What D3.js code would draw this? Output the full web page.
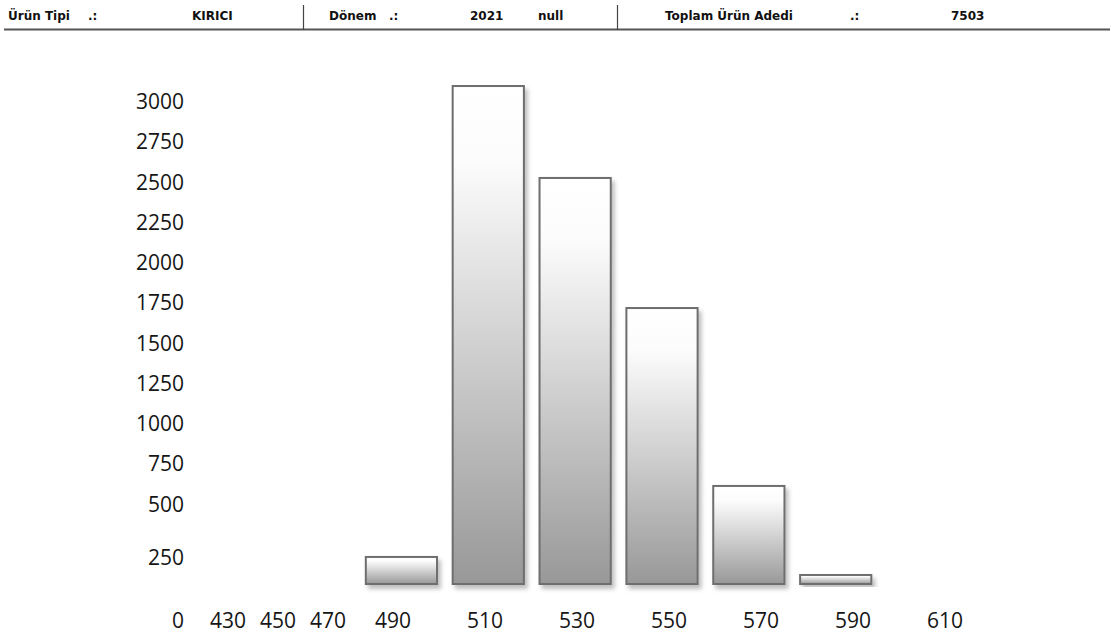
<!DOCTYPE html>
<html><head><meta charset="utf-8">
<script src="https://cdn.jsdelivr.net/npm/d3@7"></script>
<style>
html,body{margin:0;padding:0;background:#fff;}
svg{display:block;}
</style></head>
<body>
<script>
// ---- data ----
const headerLabels = ["Ürün Tipi", ".:", "KIRICI", "Dönem", ".:", "2021", "null", "Toplam Ürün Adedi", ".:", "7503"];
const barCategories = ["490", "510", "530", "550", "570", "590", "610"];
const barValues = [168, 3093, 2522, 1714, 609, 56, 0];
const emptyCategories = ["0", "430", "450", "470"];
const yTickValues = [250, 500, 750, 1000, 1250, 1500, 1750, 2000, 2250, 2500, 2750, 3000];

const W = 1110, H = 633;
const svg = d3.select("body").append("svg").attr("width", W).attr("height", H);
const defs = svg.append("defs");

const grad = defs.append("linearGradient").attr("id", "barGrad")
  .attr("x1", 0).attr("y1", 0).attr("x2", 0).attr("y2", 1);
grad.append("stop").attr("offset", "0").attr("stop-color", "#ffffff");
grad.append("stop").attr("offset", "0.15").attr("stop-color", "#fcfcfc");
grad.append("stop").attr("offset", "1").attr("stop-color", "#989898");

const f = defs.append("filter").attr("id", "shadow")
  .attr("x", "-20%").attr("y", "-20%").attr("width", "150%").attr("height", "150%");
f.append("feDropShadow").attr("dx", 3).attr("dy", 4).attr("stdDeviation", 2)
  .attr("flood-color", "#000").attr("flood-opacity", 0.25);

// ---- header ----
const hx = [8, 88, 192, 329, 389, 470, 538, 665, 850, 951];
const hdr = svg.append("g").attr("font-family", "DejaVu Sans, Verdana, sans-serif")
  .attr("font-weight", "bold").attr("font-size", 12).attr("fill", "#111");
hdr.selectAll("text").data(headerLabels).join("text")
  .attr("x", (d, i) => hx[i]).attr("y", 20).text(d => d);
svg.append("line").attr("x1", 4).attr("x2", W).attr("y1", 29.5).attr("y2", 29.5)
  .attr("stroke", "#555").attr("stroke-width", 2);
[303, 617].forEach(x => svg.append("line").attr("x1", x + 0.5).attr("x2", x + 0.5)
  .attr("y1", 5).attr("y2", 30).attr("stroke", "#444").attr("stroke-width", 1.2));

// ---- scales ----
const y = d3.scaleLinear().domain([0, 3000]).range([584, 101]);
const x = d3.scaleBand().domain(barCategories).range([358, 966])
  .paddingInner(0.18).paddingOuter(0.09);
const xLabel = d3.scalePoint().domain(barCategories).range([393, 945]);
const xEmpty = d3.scalePoint().domain(emptyCategories).range([178, 328]);

// ---- y axis labels ----
const yAxis = d3.axisLeft(y).tickValues(yTickValues).tickSize(0).tickPadding(0)
  .tickFormat(d3.format("d"));
const yg = svg.append("g").attr("transform", "translate(184,0)").call(yAxis);
yg.select(".domain").remove();
yg.selectAll("text").attr("font-family", "Open Sans, sans-serif").attr("font-size", 21)
  .attr("fill", "#151515")
  .attr("dy", d => d === 250 ? "1.0em" : "0.36em");

// ---- bars ----
svg.append("g").selectAll("rect").data(barCategories.map((c, i) => ({c, v: barValues[i]})).filter(d => d.v > 0))
  .join("rect")
  .attr("x", d => x(d.c)).attr("width", x.bandwidth())
  .attr("y", d => y(d.v)).attr("height", d => y(0) - y(d.v))
  .attr("fill", "url(#barGrad)").attr("stroke", "#6e6e6e").attr("stroke-width", 2)
  .attr("filter", "url(#shadow)");

// ---- x axis labels ----
const xl = svg.append("g").attr("font-family", "Open Sans, sans-serif").attr("font-size", 21)
  .attr("fill", "#151515").attr("text-anchor", "middle");
xl.selectAll("text.e").data(emptyCategories).join("text").attr("class", "e")
  .attr("x", d => xEmpty(d)).attr("y", 628).text(d => d);
xl.selectAll("text.b").data(barCategories).join("text").attr("class", "b")
  .attr("x", d => xLabel(d)).attr("y", 628).text(d => d);
</script>
</body></html>
